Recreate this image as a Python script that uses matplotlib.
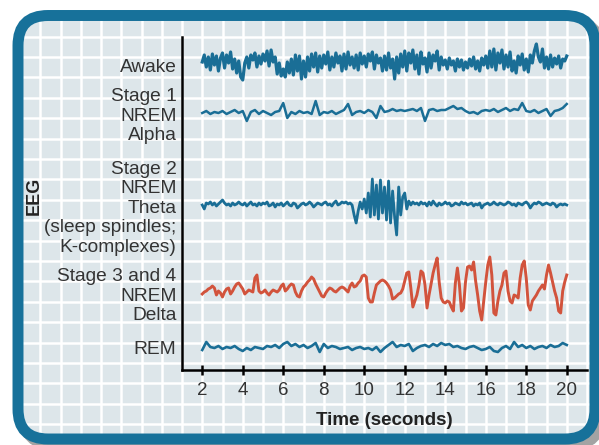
import numpy as np
import matplotlib
matplotlib.use('Agg')
import matplotlib.pyplot as plt
from matplotlib.patches import FancyBboxPatch

plt.rcParams['font.family'] = ['Liberation Sans', 'DejaVu Sans']

# labels of the stages, top to bottom
stage_labels = ['Awake',
                'Stage 1\nNREM\nAlpha',
                'Stage 2\nNREM\nTheta\n(sleep spindles;\nK-complexes)',
                'Stage 3 and 4\nNREM\nDelta',
                'REM']
time_ticks = [2, 4, 6, 8, 10, 12, 14, 16, 18, 20]

# traces: deflection of each EEG line (px, up is positive), sampled from 2 s to 20 s
awake = [3, 10, -2, 8, -5, 11, 0, 9, -6, 7,
         12, -3, 10, 2, 13, -4, 6, -8, 4, -12,
         -15, 2, 8, -3, 10, 5, 12, -2, 9, 1,
         11, 4, 14, -1, 15, 3, 8, -9, 2, -11,
         -4, -12, 3, -8, 6, -10, 10, -6, 9, -14,
         4, -12, 8, -6, 11, -2, 12, -7, 9, -3,
         10, 1, 13, -5, 8, -2, 12, 2, 9, -6,
         11, -4, 13, 0, 8, -3, 10, -5, 12, 1,
         9, -2, 11, 4, 13, -4, 10, 2, 7, -6,
         9, -5, 12, -3, 6, -14, 8, -8, 11, -2,
         14, -6, 12, 2, 15, -4, 10, -9, 13, 1,
         7, -7, 12, -3, 10, 4, 14, -5, 8, 0,
         5, -4, 7, 0, 4, -6, 6, -2, 5, -5,
         3, -3, 6, -1, 8, -4, 4, -6, 7, 0,
         9, -3, 14, -2, 16, -5, 12, 2, 15, -4,
         10, -2, 13, -6, 4, -8, 9, 0, 11, -5,
         6, -7, 10, 2, 14, 21, 8, 3, 16, -3,
         8, -4, 10, -2, 7, 1, 9, -3, 6, 4,
         9]

stage1 = [0, 2, -1, 1, 0, 2, -1, 1, 3, 0,
          2, -8, 1, 3, -1, 2, 0, -2, 1, 2,
          10, -5, 1, -1, 2, 0, 1, -1, 12, -2,
          1, 0, 2, -1, 1, 3, 9, -2, 1, 2,
          0, 3, 1, -5, 7, 1, 2, 4, 2, 3,
          2, 3, 4, 2, 5, -8, 3, 4, 2, 3,
          3, 5, 7, 4, 5, 2, 0, 1, -1, 2,
          3, 2, 4, 1, 3, 5, 2, 4, 3, 10,
          2, 1, 3, 0, 2, 4, -3, 2, 3, 5,
          9]

stage2 = [0, -4, 2, 1, 3, 0, 2, -1, 1, 3,
          5, 2, 0, 1, -1, 2, 0, 1, 3, 1,
          0, 2, -1, 1, 3, 0, 1, -1, 2, 0,
          2, 1, 3, -1, 0, 2, -2, 1, 0, 2,
          -1, 1, 3, 0, -1, 2, 1, -3, -1, 1,
          2, 0, 1, 3, 1, -2, 0, 2, 1, 0,
          2, 3, 0, 1, -1, 2, 4, 0, 1, 3,
          2, 3, 1, 2, 0, -10, -18, -6, 3, -4,
          6, -8, 12, -12, 26, -10, 20, -14, 25, -8,
          18, -15, 24, -18, 14, -12, -30, 18, -10, 8,
          12, -4, 4, 0, 3, 1, 2, 0, 3, 1,
          2, -1, 3, 0, 4, 1, -1, 2, 0, 1,
          3, 1, 2, -1, 0, 2, 1, 0, 3, 1,
          2, 0, 1, 2, -1, 1, 0, 2, -3, 0,
          1, 2, 0, 1, 3, 1, 0, 2, 1, 0,
          1, 3, 2, 0, 1, -1, 2, 1, 0, 2,
          3, 1, -3, 0, 2, 1, 3, 2, 0, 1,
          2, 1, 0, 2, 1, -2, 0, 1, 0, 1,
          0]

stage3 = [-1, 1, 2, 4, 5, 7, 5, -2, 2, 0,
          -4, 1, 4, 5, -1, 2, 6, 9, 10, 7,
          4, -1, 1, 3, 2, 1, 15, 18, 2, 0,
          1, 3, 0, -2, 1, 3, 2, 1, 3, 7,
          9, 2, 4, 7, 9, 8, 1, -3, -4, 2,
          6, 8, 11, 13, 16, 14, 9, 5, 1, -3,
          -4, 0, 3, 5, 4, 2, 1, 3, 5, 6,
          5, 3, 1, 7, 10, 6, 7, 10, 12, 17,
          18, 16, -5, -9, -9, 0, 8, 10, 12, 13,
          12, 10, 7, 3, -6, -5, -3, -1, 0, 4,
          12, 20, 21, 5, -14, -8, -2, 8, 22, 20,
          8, -15, -2, 9, 20, 28, 35, 11, -5, -9,
          -10, -8, -9, -14, -18, 10, 25, 8, -18, -15,
          11, 26, 27, 23, 31, 12, -2, -18, -27, -8,
          11, 28, 36, 18, -20, -22, -8, 2, 8, 20,
          22, 2, -8, -10, -2, -3, -5, 15, 28, 32,
          15, -12, -17, -8, -5, -2, 2, 5, 8, 4,
          18, 28, 20, 11, 2, -5, -18, -20, 2, 11,
          18]

rem = [-2, 6, 1, 0, 2, -1, 1, 0, 2, -1,
       -3, 0, -2, 1, 0, -1, 2, 1, 3, 0,
       4, 6, 2, 4, 1, 3, 0, 2, 5, -4,
       4, 0, 2, 1, -1, 0, 1, -2, 0, 1,
       -1, 0, -2, 1, -4, 0, 3, 6, 1, 3,
       2, 4, -3, 0, 2, 3, 1, 4, 2, 5,
       3, 4, 1, 2, 0, -1, 1, 2, 0, -2,
       -1, 1, -3, -4, 0, 2, -1, 6, 1, 3,
       0, 2, -1, 1, 2, 0, 3, 1, 2, 5,
       3]

traces = [awake, stage1, stage2, stage3, rem]

# layout (pixels of the 599x445 picture)
W, H = 599, 445
AX_L, AX_R, AX_B, AX_T = 182, 587, 370, 37
T_MIN, T_MAX = 1, 21
baselines = [305, 257, 165, 77, 22]
blue = '#1a6e96'
red = '#d2533c'
trace_colors = [blue, blue, blue, red, blue]
trace_widths = [2.3, 1.8, 2.0, 2.1, 1.9]

fig = plt.figure(figsize=(W / 100, H / 100), dpi=100)

# background frame with grid
bg = fig.add_axes([0, 0, 1, 1])
bg.set_xlim(0, W)
bg.set_ylim(H, 0)
bg.axis('off')
shadow = FancyBboxPatch((24, 21.5), 577, 423.5, boxstyle='round,pad=0,rounding_size=30',
                        fc='#a3a3a3', ec='#a3a3a3', lw=7.9, zorder=0)
bg.add_patch(shadow)
frame = FancyBboxPatch((18, 15.5), 577, 423.5, boxstyle='round,pad=0,rounding_size=30',
                       fc='#dde6ea', ec='none', zorder=1)
bg.add_patch(frame)
px_s = (AX_R - AX_L) / (T_MAX - T_MIN)
xs = AX_L + (np.arange(-9, 23) - T_MIN) * px_s
ys = 363 + 20.4 * np.arange(-18, 5)
vl = bg.vlines(xs, 0, H, color='white', lw=1.8, zorder=2)
hl = bg.hlines(ys, 0, W, color='white', lw=1.8, zorder=2)
vl.set_clip_path(frame)
hl.set_clip_path(frame)
border = FancyBboxPatch((18, 15.5), 577, 423.5, boxstyle='round,pad=0,rounding_size=30',
                        fc='none', ec='#17719a', lw=7.9, zorder=3)
bg.add_patch(border)

# main chart
ax = fig.add_axes([AX_L / W, 1 - AX_B / H, (AX_R - AX_L) / W, (AX_B - AX_T) / H])
ax.set_facecolor('none')
ax.set_xlim(T_MIN, T_MAX)
ax.set_ylim(0, AX_B - AX_T)

for vals, base, c, lw in zip(traces, baselines, trace_colors, trace_widths):
    t = np.linspace(2, 20, len(vals))
    ax.plot(t, base + np.array(vals), color=c, lw=lw, solid_joinstyle='round')

ax.spines['top'].set_visible(False)
ax.spines['right'].set_visible(False)
ax.spines['left'].set_linewidth(1.8)
ax.spines['bottom'].set_linewidth(1.8)

ax.set_xticks(time_ticks)
ax.set_xticklabels([str(v) for v in time_ticks])
ax.tick_params(axis='x', direction='inout', length=7.2, width=1.8, pad=5,
               labelsize=13.5, labelcolor='#333333')
ax.set_yticks(baselines)
ax.set_yticklabels(stage_labels, ha='right', multialignment='right')
ax.tick_params(axis='y', length=0, pad=4, labelsize=13.8, labelcolor='#333333')

ax.set_xlabel('Time (seconds)', fontsize=13.5, fontweight='bold', color='#222222')
ax.xaxis.set_label_coords(0.5, -0.125)

fig.text(34 / W, 1 - 196 / H, 'EEG', rotation=90, fontsize=13, fontweight='bold',
         color='#222222', ha='center', va='center')

fig.savefig('out.png', dpi=100)
